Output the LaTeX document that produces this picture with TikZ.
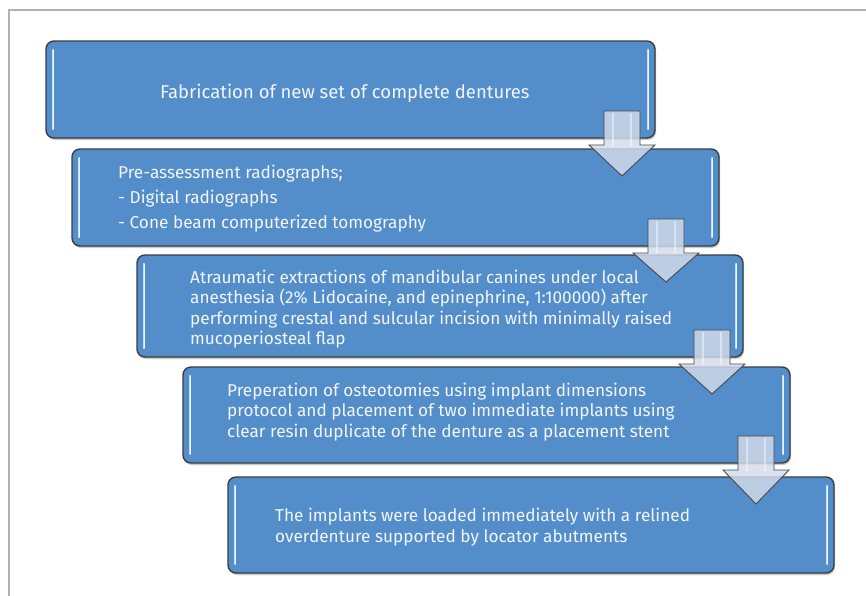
\documentclass[tikz,border=0pt]{standalone}
\usepackage{fontspec}
\setmainfont{Fira Sans}
\usetikzlibrary{calc,shadows}
\definecolor{boxblue}{RGB}{84,142,202}
\definecolor{boxedge}{RGB}{58,60,66}
\definecolor{hilite}{RGB}{196,222,246}
\definecolor{arrowfill}{RGB}{212,220,234}
\definecolor{arrowedge}{RGB}{70,72,78}
\definecolor{framegray}{RGB}{178,178,178}
\definecolor{txtwhite}{RGB}{242,246,252}
\tikzset{
  stepbox/.style={draw=boxedge, line width=1.4pt, fill=boxblue, rounded corners=8pt,
    anchor=north west, inner sep=0pt, outer sep=0pt,
    drop shadow={shadow xshift=1pt, shadow yshift=-2pt, opacity=0.35, fill=black!60}},
  hl/.style={draw=hilite, line width=2.6pt, line cap=round},
  hlc/.style={draw=white, line width=0.8pt, line cap=round, opacity=0.7},
  steptext/.style={anchor=west, align=left, text=txtwhite, inner sep=0pt,
    font=\fontsize{17.2}{20.5}\selectfont},
  bigtext/.style={steptext, font=\fontsize{18.5}{22}\selectfont},
  blockarrow/.style={draw=arrowedge, line width=0.9pt, fill=arrowfill, fill opacity=0.82, line join=miter},
}
\newcommand{\boxhl}[1]{%
  \draw[hl] ($(#1.north west)+(7,9)$) -- ($(#1.south west)+(7,-9)$);
  \draw[hlc] ($(#1.north west)+(7,9)$) -- ($(#1.south west)+(7,-9)$);
  \draw[hl] ($(#1.north east)+(-7,9)$) -- ($(#1.south east)+(-7,-9)$);
  \draw[hlc] ($(#1.north east)+(-7,9)$) -- ($(#1.south east)+(-7,-9)$);
}
\newcommand{\flowarrow}[3]{%
  \path[blockarrow] let \p1=(#1.south), \p2=(#2.north) in
    ({#3pt-18pt},{\y1+27pt}) -- ({#3pt+18pt},{\y1+27pt}) -- ({#3pt+18pt},{\y1-7pt})
    -- ({#3pt+33pt},{\y1-7pt}) -- ({#3pt},{\y2-27pt}) -- ({#3pt-33pt},{\y1-7pt})
    -- ({#3pt-18pt},{\y1-7pt}) -- cycle;
  \path let \p1=(#1.south) in
    coordinate (h1) at ({#3pt-9pt},{\y1+25pt}) coordinate (h2) at ({#3pt-9pt},{\y1-8pt})
    coordinate (h3) at ({#3pt+9pt},{\y1+25pt}) coordinate (h4) at ({#3pt+9pt},{\y1-8pt});
  \draw[white, line width=2pt, opacity=0.45] (h1) -- (h2) (h3) -- (h4);
}
\begin{document}
\begin{tikzpicture}[x=1pt, y=-1pt]
  \useasboundingbox (0,0) rectangle (866,595);
  \fill[white] (0,0) rectangle (866,595);
  \draw[framegray, line width=1.6pt] (9,600) -- (9,10) -- (870,10);

  \node[stepbox, minimum width=609pt, minimum height=97pt] (b1) at (46,41) {};
  \node[stepbox, minimum width=647pt, minimum height=97pt] (b2) at (72,149) {};
  \node[stepbox, minimum width=606pt, minimum height=102pt] (b3) at (137,255) {};
  \node[stepbox, minimum width=607pt, minimum height=96pt] (b4) at (183,367) {};
  \node[stepbox, minimum width=606pt, minimum height=96pt] (b5) at (228,477) {};

  \boxhl{b1}\boxhl{b2}\boxhl{b3}\boxhl{b4}\boxhl{b5}

  \node[bigtext] (t1) at (160,93) {Fabrication of new set of complete dentures};
  \node[steptext] (t2) at (118,199) {Pre-assessment radiographs;\\[4.5pt]- Digital radiographs\\[4.5pt]- Cone beam computerized tomography};
  \node[steptext] (t3) at (190,309) {Atraumatic extractions of mandibular canines under local\\anesthesia (2\% Lidocaine, and epinephrine, 1:100000) after\\performing crestal and sulcular incision with minimally raised\\mucoperiosteal flap};
  \node[steptext] (t4) at (227,412) {Preperation of osteotomies using implant dimensions\\protocol and placement of two immediate implants using\\clear resin duplicate of the denture as a placement stent};
  \node[steptext] (t5) at (275,527) {The implants were loaded immediately with a relined\\overdenture supported by locator abutments};

  \flowarrow{b1}{b2}{622}
  \flowarrow{b2}{b3}{666}
  \flowarrow{b3}{b4}{712}
  \flowarrow{b4}{b5}{756}
\end{tikzpicture}
\end{document}
